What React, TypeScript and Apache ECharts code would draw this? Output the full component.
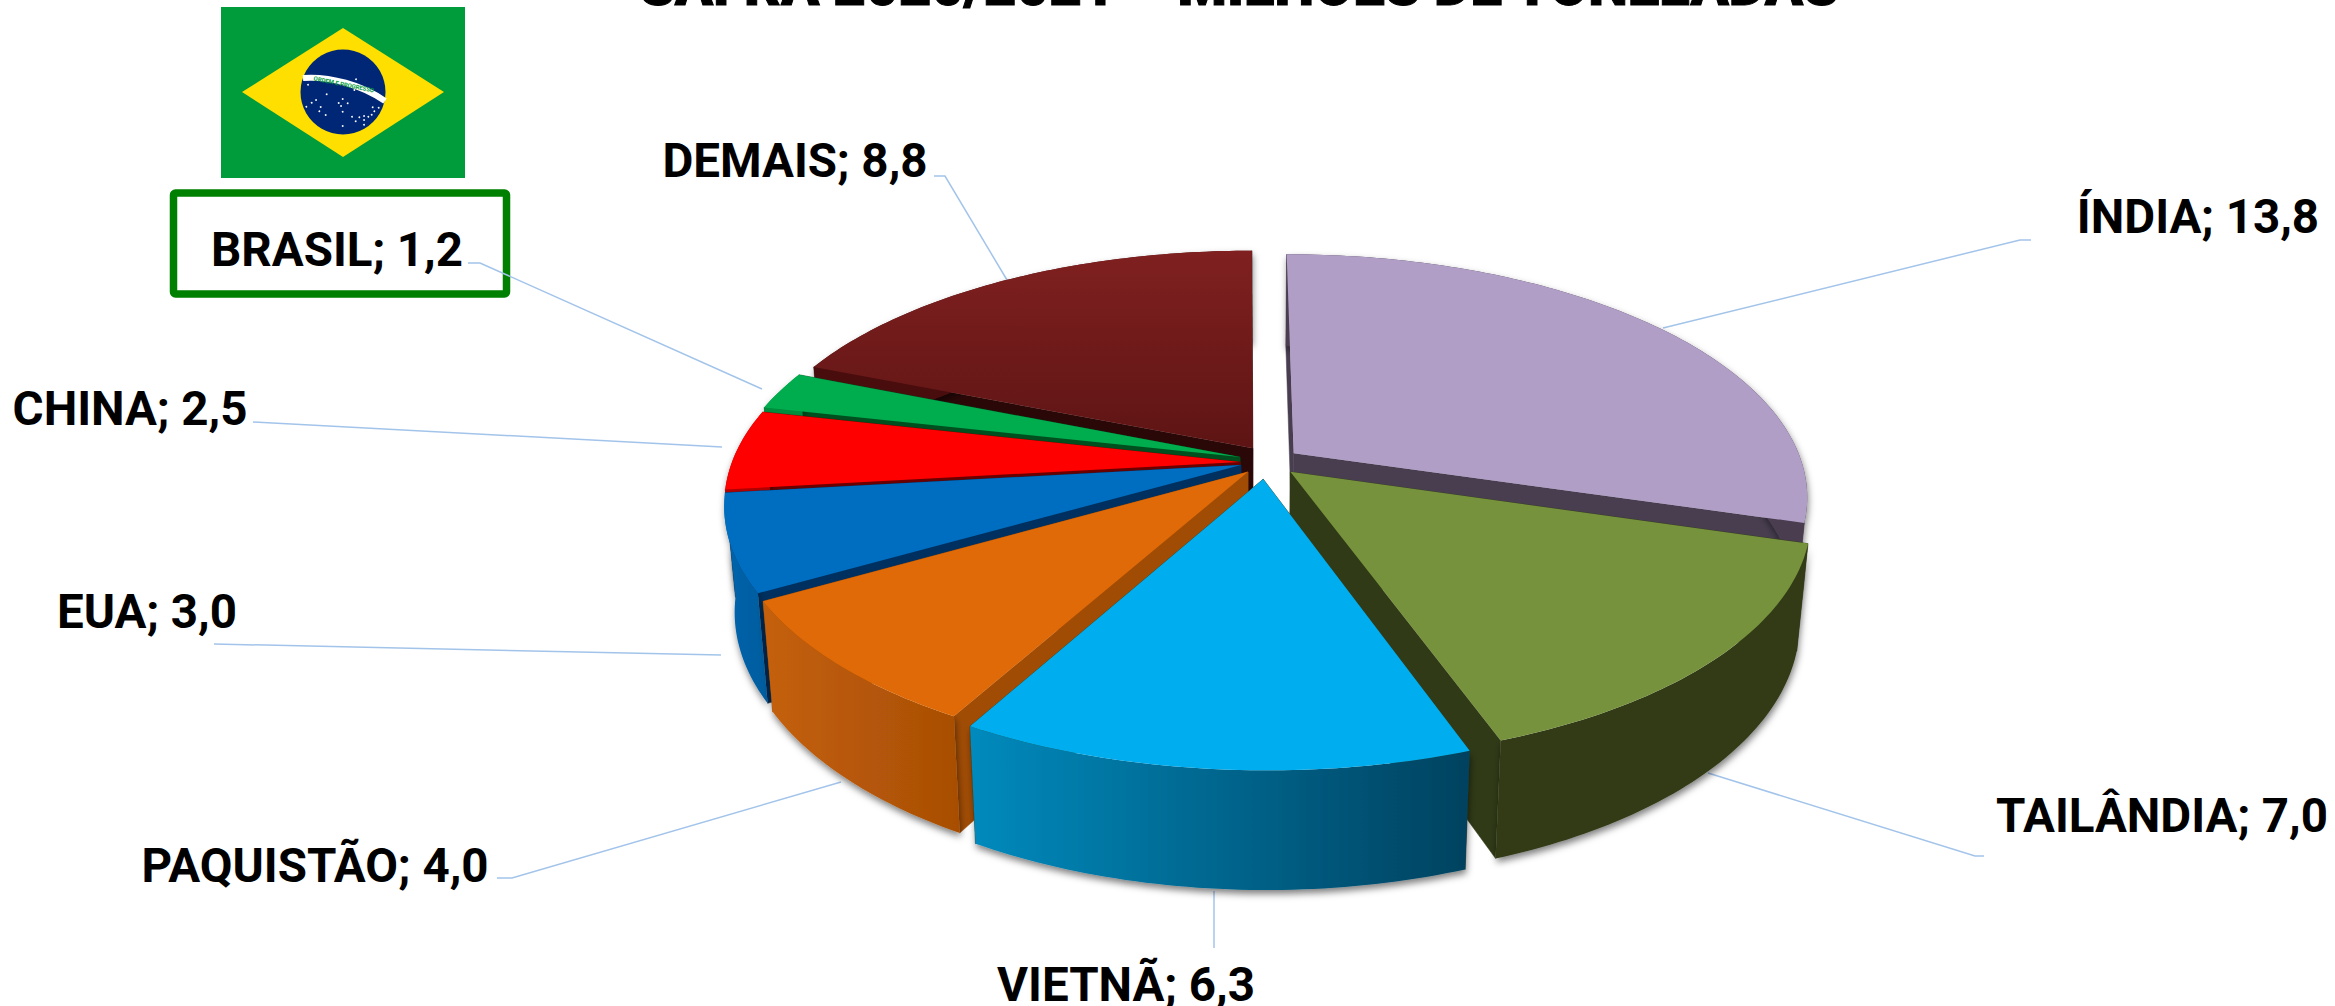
import React, { useEffect, useRef } from "react";
import * as echarts from "echarts";

const categories = ["ÍNDIA", "TAILÂNDIA", "VIETNÃ", "PAQUISTÃO", "EUA", "CHINA", "BRASIL", "DEMAIS"];
const seriesValues = [13.8, 7.0, 6.3, 4.0, 3.0, 2.5, 1.2, 8.8];
const titleText = "SAFRA 2020/2021 – MILHÕES DE TONELADAS";
const mottoText = "ORDEM E PROGRESSO";

// styling / layout, kept apart from the values
const topColors: any[] = [
  "#B09EC6", "#76923C", "#00AEEF", "#E06A07", "#006EC0", "#FF0000", "#00AD4E",
  { type: "linear", x: 0, y: 0, x2: 0, y2: 1, colorStops: [{ offset: 0, color: "#802020" }, { offset: 1, color: "#5E1414" }] },
];
const cutColors = ["#483E50", "#303A17", "#303A17", "#A04C05", "#00305F", "#6B0000", "#00501F", "#2A0808"];
const wallLeft = ["#483E50", "#303A17", "#008ABD", "#C4600A", "#0064AC", "#B00000", "#008C3E", "#4A1010"];
const wallRight = ["#483E50", "#303A17", "#00425F", "#A84E05", "#005C9E", "#B00000", "#008C3E", "#4A1010"];
const explodeX = [49, 45, 18, 3, -4, -5, -5, 8];
const explodeV = [-20, 22, 38, 22, 7, 0, -11, -31];
const drawOrder = [7, 0, 6, 5, 4, 3, 1, 2];
const labelX = [2198, 2162, 1126, 315, 147, 130, 337, 795];
const labelY = [217, 816, 985, 866, 612, 409, 250, 161];
const leaders = [
  [[1663, 328], [2020, 240], [2031, 240]],
  [[1708, 773], [1975, 856], [1984, 856]],
  [[1214, 891], [1214, 948]],
  [[841, 782], [512, 878], [497, 878]],
  [[721, 655], [214, 644]],
  [[722, 447], [253, 422]],
  [[762, 389], [480, 263], [468, 263]],
  [[1007, 280], [945, 176], [934, 176]],
];
const flagStars = [
  [474, 254], [530, 283], [485, 308], [498, 300], [469, 320], [512, 321], [508, 334], [527, 345], [578, 297],
  [566, 309], [593, 310], [573, 318], [578, 335], [606, 350], [617, 364], [628, 352], [642, 348], [655, 350],
  [665, 344], [673, 334], [686, 323], [668, 322], [642, 360], [642, 374], [578, 378], [618, 238], [613, 270],
];

const CX = 1245, CY = 462, R = 529, RX = 508, K = 0.445, D = 5.9 * R, H = 103, SHRINK = 0.98;
const toRad = Math.PI / 180;

function project(X: number, v: number, h: number) {
  const f = D / (D - v);
  const g = h ? SHRINK : 1;
  return [CX + X * f * g, CY + K * v * f * g + H * f * h];
}
const total = seriesValues.reduce((a, b) => a + b, 0);
const startAngles: number[] = [];
const endAngles: number[] = [];
seriesValues.reduce((acc, v, i) => {
  startAngles[i] = (acc / total) * 360;
  endAngles[i] = ((acc + v) / total) * 360;
  return acc + v;
}, 0);

function rimPoint(i: number, deg: number, h: number) {
  const X = RX * Math.sin(deg * toRad) + explodeX[i];
  const v = -R * Math.cos(deg * toRad) + explodeV[i];
  return project(X, v, h);
}
function arc(i: number, h: number) {
  const pts: number[][] = [];
  const n = Math.max(4, Math.ceil(endAngles[i] - startAngles[i]));
  for (let s = 0; s <= n; s++) pts.push(rimPoint(i, startAngles[i] + ((endAngles[i] - startAngles[i]) * s) / n, h));
  return pts;
}

function renderItem(_params: any, api: any) {
  const i = api.value(0);
  const apexT = project(explodeX[i], explodeV[i], 0);
  const apexB = project(explodeX[i], explodeV[i], 1);
  const top = arc(i, 0);
  const bottom = arc(i, 1);
  const cut = (p: number[], q: number[]) => ({
    type: "polygon",
    silent: true,
    shape: { points: [apexT, p, q, apexB] },
    style: { fill: cutColors[i], stroke: cutColors[i], lineWidth: 0.5 },
  });
  return {
    type: "group",
    silent: true,
    children: [
      cut(top[0], bottom[0]),
      cut(top[top.length - 1], bottom[bottom.length - 1]),
      {
        type: "polygon",
        silent: true,
        shape: { points: [...top, ...[...bottom].reverse()] },
        style: {
          fill: {
            type: "linear", x: 0, y: 0, x2: 1, y2: 0,
            colorStops: [{ offset: 0, color: wallLeft[i] }, { offset: 1, color: wallRight[i] }],
          },
          shadowColor: "rgba(0,0,0,0.5)",
          shadowBlur: 7,
          shadowOffsetX: 1,
          shadowOffsetY: 4,
        },
      },
      {
        type: "polygon",
        silent: true,
        shape: { points: [apexT, ...top] },
        style: { fill: topColors[i] },
      },
    ],
  };
}

function labelOf(i: number) {
  return `${categories[i]}; ${seriesValues[i].toFixed(1).replace(".", ",")}`;
}

function buildGraphic() {
  const elements: any[] = [
    {
      type: "text", x: 0, y: 0,
      style: {
        text: titleText, x: 1239, y: 14, fill: "#000", stroke: "#000", lineWidth: 1, textAlign: "center", textVerticalAlign: "bottom",
        fontFamily: "Roboto", fontWeight: 900, fontSize: 56.4,
      },
    },
    { type: "rect", shape: { x: 221, y: 7, width: 244, height: 171 }, style: { fill: "#009B3A" } },
    {
      type: "polygon",
      shape: { points: [[242, 92], [343, 28], [444, 92], [343, 157]] },
      style: { fill: "#FEDF00" },
    },
    { type: "circle", shape: { cx: 343, cy: 92, r: 42.5 }, style: { fill: "#002776" } },
    {
      type: "bezierCurve",
      shape: { x1: 303, y1: 78, x2: 385, y2: 101, cpx1: 330, cpy1: 76, cpx2: 362, cpy2: 85 },
      style: { stroke: "#FFFFFF", lineWidth: 6, fill: "none" },
    },
    {
      type: "text", x: 344, y: 84, rotation: -0.2,
      style: {
        text: mottoText, x: 0, y: 0, fill: "#009B3A", textAlign: "center", textVerticalAlign: "middle",
        fontFamily: "Roboto", fontWeight: 700, fontSize: 6,
      },
    },
    ...flagStars.map(([x, y]) => ({
      type: "circle",
      shape: { cx: 150 + x / 3, cy: y / 3, r: 0.9 },
      style: { fill: "#FFFFFF" },
    })),
    {
      type: "rect",
      shape: { x: 173.5, y: 193, width: 333, height: 101, r: 2 },
      style: { fill: "#FFFFFF", stroke: "#008000", lineWidth: 7.5 },
    },
  ];
  leaders.forEach((pts) => {
    elements.push({
      type: "polyline",
      shape: { points: pts },
      style: { stroke: "#A3C4EA", lineWidth: 1.5, fill: "none" },
    });
  });
  categories.forEach((_c, i) => {
    elements.push({
      type: "text",
      style: {
        text: labelOf(i), x: labelX[i], y: labelY[i], fill: "#000", textAlign: "center", textVerticalAlign: "middle",
        fontFamily: "Roboto", fontWeight: 700, fontSize: 47.5,
      },
    });
  });
  return elements;
}

export default function App() {
  const ref = useRef<HTMLDivElement>(null);
  useEffect(() => {
    const chart = echarts.init(ref.current!, undefined, { renderer: "svg" });
    chart.setOption({
      animation: false,
      backgroundColor: "#FFFFFF",
      graphic: { elements: buildGraphic() },
      series: [
        {
          type: "custom",
          coordinateSystem: "none",
          silent: true,
          renderItem,
          data: drawOrder.map((i) => [i, seriesValues[i]]),
        },
      ],
    });
    return () => chart.dispose();
  }, []);
  return <div ref={ref} style={{ position: "absolute", left: 0, top: 0, width: 2335, height: 1006 }} />;
}
